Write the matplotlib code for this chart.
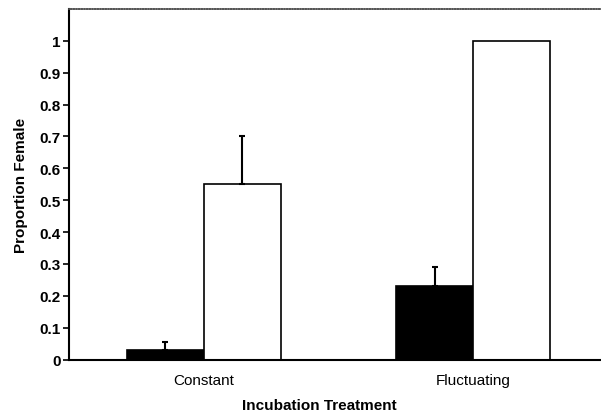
import matplotlib
matplotlib.use("Agg")
import matplotlib.pyplot as plt
import numpy as np

plt.rcParams['font.family'] = ['Liberation Sans', 'DejaVu Sans']

# data
treatments = ['Constant', 'Fluctuating']
black_vals = [0.03, 0.23]
black_err = [0.025, 0.06]
white_vals = [0.55, 1.0]
white_err = [0.15, 0.0]
yticks = [0, 0.1, 0.2, 0.3, 0.4, 0.5, 0.6, 0.7, 0.8, 0.9, 1]
ytick_labels = ['0', '0.1', '0.2', '0.3', '0.4', '0.5', '0.6', '0.7', '0.8', '0.9', '1']

fig = plt.figure(figsize=(6.01, 4.14), dpi=100)
ax = fig.add_axes([0.1148, 0.129, 0.8852, 0.847])

x = np.arange(len(treatments))
w = 0.285

ax.bar(x - w / 2, black_vals, width=w, color='black', edgecolor='black', linewidth=1.2)
ax.bar(x + w / 2, white_vals, width=w, color='white', edgecolor='black', linewidth=1.2)

# only upper error bars, with a small cap (skip bars without error)
for xs, vals, errs in [(x - w / 2, black_vals, black_err), (x + w / 2, white_vals, white_err)]:
    for xi, v, e in zip(xs, vals, errs):
        if e > 0:
            ax.errorbar(xi, v, yerr=[[0], [e]], fmt='none', ecolor='black',
                        elinewidth=1.5, capsize=2.5, capthick=1.5)

ax.set_xlim(-0.5, 1.474)
ax.set_ylim(0, 1.1)
ax.set_yticks(yticks)
ax.set_yticklabels(ytick_labels, fontsize=11, fontweight='bold')
ax.set_xticks(x)
ax.set_xticklabels(treatments, fontsize=11)
ax.tick_params(axis='x', length=0, pad=10)
ax.tick_params(axis='y', length=4, width=1.2, direction='out', pad=2)

ax.spines['left'].set_linewidth(1.5)
ax.spines['bottom'].set_linewidth(1.5)
ax.spines['right'].set_visible(False)
ax.spines['top'].set_color('#555555')
ax.spines['top'].set_linestyle((0, (1, 0.6)))
ax.spines['top'].set_linewidth(1.2)

ax.set_ylabel('Proportion Female', fontsize=11, fontweight='bold', labelpad=8)
ax.set_xlabel('Incubation Treatment', fontsize=11, fontweight='bold')
ax.xaxis.set_label_coords(0.471, -0.11)

fig.savefig('out.png', dpi=100)
